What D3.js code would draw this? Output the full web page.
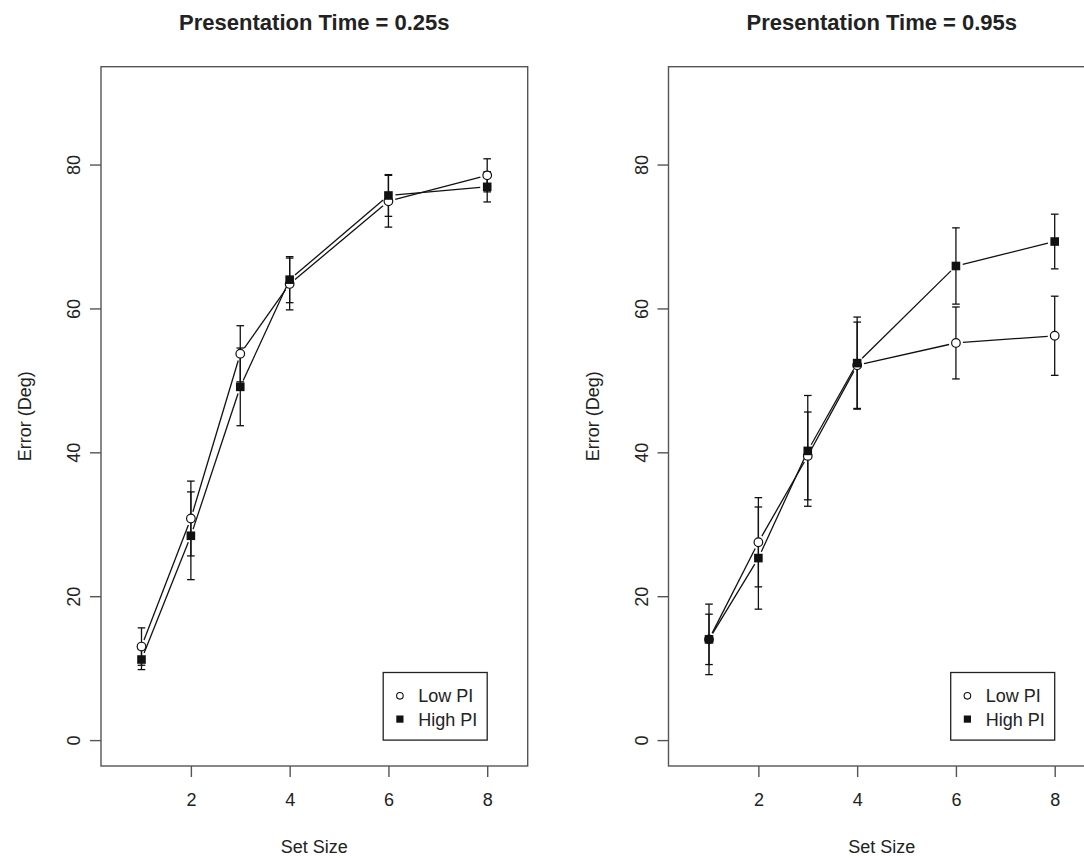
<!DOCTYPE html>
<html>
<head>
<meta charset="utf-8">
<script src="https://cdn.jsdelivr.net/npm/d3@7"></script>
<style>
  html, body { margin: 0; padding: 0; background: #fff; }
  svg { display: block; font-family: "Liberation Sans", Arial, Helvetica, sans-serif; }
</style>
</head>
<body>
<svg id="chart" width="1084" height="858"></svg>
<script>
// ---- data ----
const setSizes = [1, 2, 3, 4, 6, 8];
const panelTitles = ["Presentation Time = 0.25s", "Presentation Time = 0.95s"];
const seriesNames = ["Low PI", "High PI"];
const xTicks = [2, 4, 6, 8];
const yTicks = [0, 20, 40, 60, 80];

// Presentation time 0.25s
const lowPI_025 = [13.0, 30.8, 53.7, 63.4, 74.9, 78.5];
const lowPI_025_err = [2.6, 5.2, 3.9, 3.6, 3.6, 2.3];
const highPI_025 = [11.2, 28.4, 49.1, 64.0, 75.7, 76.9];
const highPI_025_err = [1.4, 6.1, 5.4, 3.2, 2.9, 2.1];

// Presentation time 0.95s
const lowPI_095 = [14.0, 27.5, 39.5, 52.1, 55.2, 56.2];
const lowPI_095_err = [3.5, 6.2, 6.1, 6.0, 5.0, 5.5];
const highPI_095 = [14.0, 25.3, 40.2, 52.4, 65.9, 69.3];
const highPI_095_err = [4.9, 7.1, 7.7, 6.4, 5.3, 3.8];

const panels = [
  { title: panelTitles[0], low: lowPI_025, lowErr: lowPI_025_err, high: highPI_025, highErr: highPI_025_err, left: 101 },
  { title: panelTitles[1], low: lowPI_095, lowErr: lowPI_095_err, high: highPI_095, highErr: highPI_095_err, left: 668.5 }
];

// ---- layout ----
const plotW = 426.7, plotTop = 66.7, plotBottom = 766;
const ink = "#111", boxCol = "#555", textCol = "#222";
const fs = 18;
const svg = d3.select("#chart");

panels.forEach(p => {
  const x = d3.scaleLinear().domain([0.18, 8.82]).range([p.left, p.left + plotW]);
  const y = d3.scaleLinear().domain([-3.6, 93.6]).range([plotBottom, plotTop]);
  const g = svg.append("g");

  // title
  g.append("text")
    .attr("x", p.left + plotW / 2).attr("y", 29.5)
    .attr("text-anchor", "middle")
    .attr("font-weight", "bold").attr("font-size", 22)
    .attr("fill", textCol)
    .text(p.title);

  // box
  g.append("rect")
    .attr("x", p.left).attr("y", plotTop)
    .attr("width", plotW).attr("height", plotBottom - plotTop)
    .attr("fill", "none").attr("stroke", boxCol).attr("stroke-width", 1.4);

  // x axis
  const xa = g.append("g").attr("transform", `translate(0,${plotBottom})`)
    .call(d3.axisBottom(x).tickValues(xTicks).tickSize(11).tickPadding(0).tickFormat(d3.format("d")));
  xa.select(".domain").remove();
  xa.selectAll(".tick line").attr("stroke", boxCol).attr("stroke-width", 1.4);
  xa.selectAll(".tick text").attr("y", 34).attr("dy", "0.35em")
    .attr("font-size", fs).attr("fill", textCol).attr("font-family", null);

  // y axis
  const ya = g.append("g").attr("transform", `translate(${p.left},0)`)
    .call(d3.axisLeft(y).tickValues(yTicks).tickSize(11).tickFormat(d3.format("d")));
  ya.select(".domain").remove();
  ya.selectAll(".tick line").attr("stroke", boxCol).attr("stroke-width", 1.4);
  ya.selectAll(".tick text")
    .attr("transform", "rotate(-90)")
    .attr("x", 0).attr("y", -27).attr("dy", "0.35em")
    .attr("text-anchor", "middle")
    .attr("font-size", fs).attr("fill", textCol).attr("font-family", null);

  // axis titles
  g.append("text")
    .attr("x", p.left + plotW / 2).attr("y", 853)
    .attr("text-anchor", "middle").attr("font-size", fs).attr("fill", textCol)
    .text("Set Size");
  g.append("text")
    .attr("transform", `translate(${p.left - 76},${(plotTop + plotBottom) / 2}) rotate(-90)`)
    .attr("text-anchor", "middle").attr("dy", "0.35em")
    .attr("font-size", fs).attr("fill", textCol)
    .text("Error (Deg)");

  const series = [
    { vals: p.low, errs: p.lowErr, shape: "circle" },
    { vals: p.high, errs: p.highErr, shape: "square" }
  ];

  // lines with gaps (type = "b")
  const gap = 7;
  series.forEach(s => {
    for (let i = 0; i < setSizes.length - 1; i++) {
      const x1 = x(setSizes[i]), y1 = y(s.vals[i]);
      const x2 = x(setSizes[i + 1]), y2 = y(s.vals[i + 1]);
      const len = Math.hypot(x2 - x1, y2 - y1);
      if (len <= 2 * gap) continue;
      const ux = (x2 - x1) / len, uy = (y2 - y1) / len;
      g.append("line")
        .attr("x1", x1 + ux * gap).attr("y1", y1 + uy * gap)
        .attr("x2", x2 - ux * gap).attr("y2", y2 - uy * gap)
        .attr("stroke", ink).attr("stroke-width", 1.3);
    }
  });

  // error bars
  const cap = 3.8;
  series.forEach(s => {
    setSizes.forEach((ss, i) => {
      const cx = x(ss);
      const yt = y(s.vals[i] + s.errs[i]), yb = y(s.vals[i] - s.errs[i]);
      g.append("line").attr("x1", cx).attr("x2", cx).attr("y1", yt).attr("y2", yb)
        .attr("stroke", ink).attr("stroke-width", 1.3);
      [yt, yb].forEach(yy => {
        g.append("line").attr("x1", cx - cap).attr("x2", cx + cap).attr("y1", yy).attr("y2", yy)
          .attr("stroke", ink).attr("stroke-width", 1.3);
      });
    });
  });

  // points
  series.forEach(s => {
    setSizes.forEach((ss, i) => {
      const cx = x(ss), cy = y(s.vals[i]);
      if (s.shape === "circle") {
        g.append("circle").attr("cx", cx).attr("cy", cy).attr("r", 4.3)
          .attr("fill", "#fff").attr("stroke", ink).attr("stroke-width", 1.2);
      } else {
        g.append("rect").attr("x", cx - 4.3).attr("y", cy - 4.3)
          .attr("width", 8.6).attr("height", 8.6).attr("fill", ink);
      }
    });
  });

  // legend (anchored bottom-right at x = 8, y = 0)
  const lr = x(8), lb = y(0), lw = 104, lh = 67.6;
  const lg = g.append("g").attr("transform", `translate(${lr - lw},${lb - lh})`);
  lg.append("rect").attr("width", lw).attr("height", lh)
    .attr("fill", "#fff").attr("stroke", "#222").attr("stroke-width", 1.3);
  seriesNames.forEach((name, i) => {
    const ry = 23.3 + i * 23.3;
    if (i === 0) {
      lg.append("circle").attr("cx", 16.7).attr("cy", ry).attr("r", 3.3)
        .attr("fill", "none").attr("stroke", ink).attr("stroke-width", 1.1);
    } else {
      lg.append("rect").attr("x", 16.7 - 3.6).attr("y", ry - 3.6)
        .attr("width", 7.2).attr("height", 7.2).attr("fill", ink);
    }
    lg.append("text").attr("x", 35).attr("y", ry).attr("dy", "0.36em")
      .attr("font-size", fs).attr("fill", textCol).text(name);
  });
});
</script>
</body>
</html>
